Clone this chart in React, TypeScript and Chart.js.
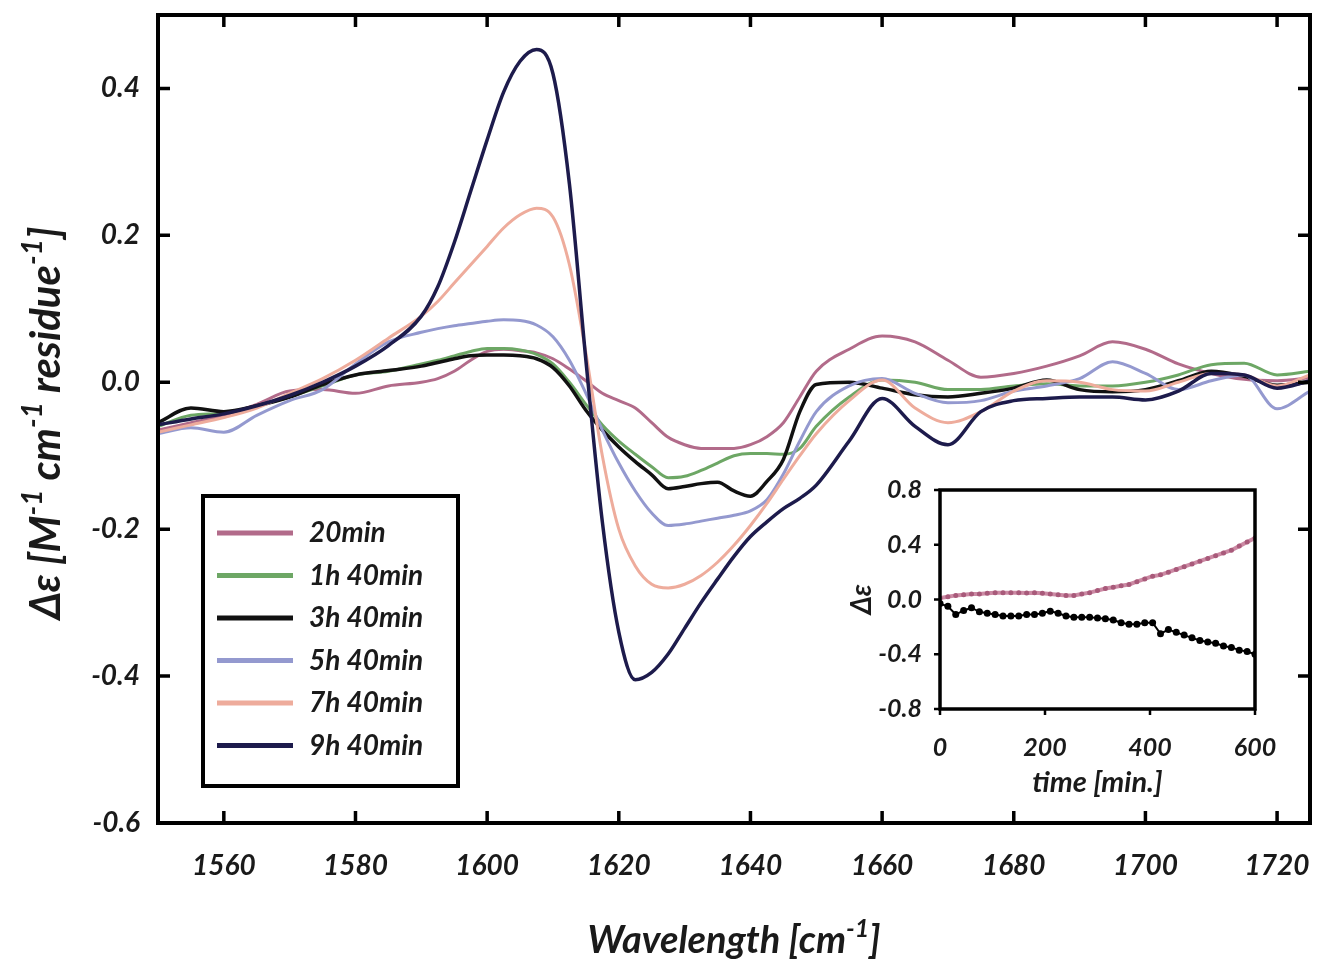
import { useEffect, useRef } from "react";
import { Chart, registerables } from "chart.js";
Chart.register(...registerables);

// ---------- main spectra data ----------
const WAVENUMBER = [1550,1555,1560,1565,1570,1575,1580,1585,1590,1592.5,1595,1597.5,1600,1602.5,1605,1607.5,1610,1612.5,1615,1617.5,1620,1622.5,1625,1627.5,1630,1632.5,1635,1637.5,1640,1642.5,1645,1647.5,1650,1655,1660,1665,1670,1675,1680,1685,1690,1695,1700,1705,1710,1715,1720,1725];
const CD_20MIN = [-0.065,-0.055,-0.045,-0.03,-0.012,-0.01,-0.015,-0.005,0.0,0.005,0.015,0.03,0.042,0.045,0.043,0.04,0.032,0.018,0.002,-0.015,-0.025,-0.035,-0.055,-0.075,-0.085,-0.09,-0.09,-0.09,-0.085,-0.074,-0.055,-0.02,0.015,0.045,0.063,0.055,0.03,0.007,0.012,0.022,0.036,0.055,0.045,0.025,0.012,0.004,0.002,0.006];
const CD_1H40 = [-0.06,-0.045,-0.042,-0.032,-0.02,-0.005,0.01,0.015,0.025,0.03,0.036,0.042,0.046,0.046,0.044,0.038,0.025,0.0,-0.03,-0.058,-0.08,-0.098,-0.115,-0.13,-0.128,-0.12,-0.11,-0.1,-0.097,-0.097,-0.098,-0.09,-0.06,-0.02,0.003,0.0,-0.01,-0.01,-0.005,-0.002,-0.005,-0.005,0.0,0.01,0.024,0.026,0.01,0.015];
const CD_3H40 = [-0.055,-0.035,-0.04,-0.032,-0.02,-0.003,0.01,0.016,0.022,0.027,0.032,0.036,0.037,0.037,0.036,0.032,0.02,-0.005,-0.038,-0.065,-0.088,-0.108,-0.126,-0.145,-0.142,-0.138,-0.136,-0.148,-0.155,-0.135,-0.105,-0.04,-0.003,0.0,-0.008,-0.017,-0.02,-0.015,-0.008,0.003,-0.01,-0.013,-0.01,0.002,0.015,0.008,-0.004,0.0];
const CD_5H40 = [-0.07,-0.062,-0.068,-0.045,-0.025,-0.01,0.025,0.055,0.068,0.073,0.077,0.08,0.083,0.085,0.084,0.078,0.062,0.03,-0.015,-0.065,-0.11,-0.148,-0.178,-0.195,-0.193,-0.189,-0.185,-0.181,-0.175,-0.16,-0.125,-0.08,-0.04,-0.005,0.005,-0.015,-0.028,-0.025,-0.012,-0.005,0.005,0.028,0.012,-0.01,0.002,0.01,-0.036,-0.012];
const CD_7H40 = [-0.068,-0.058,-0.048,-0.035,-0.015,0.005,0.03,0.06,0.09,0.11,0.135,0.16,0.185,0.21,0.228,0.237,0.225,0.16,0.04,-0.1,-0.2,-0.25,-0.275,-0.28,-0.275,-0.263,-0.245,-0.222,-0.195,-0.165,-0.132,-0.1,-0.07,-0.025,0.003,-0.035,-0.055,-0.04,-0.012,0.002,0.0,-0.01,-0.012,0.0,0.012,0.01,-0.005,0.01];
const CD_9H40 = [-0.058,-0.05,-0.043,-0.032,-0.018,0.0,0.022,0.05,0.09,0.13,0.19,0.26,0.33,0.395,0.437,0.453,0.42,0.27,0.03,-0.19,-0.34,-0.405,-0.395,-0.37,-0.335,-0.3,-0.268,-0.237,-0.21,-0.19,-0.172,-0.158,-0.14,-0.08,-0.022,-0.06,-0.085,-0.04,-0.025,-0.022,-0.02,-0.02,-0.024,-0.012,0.012,0.01,-0.008,0.002];

const SERIES_LABELS = ["20min", "1h 40min", "3h 40min", "5h 40min", "7h 40min", "9h 40min"];
const SERIES_VALUES = [CD_20MIN, CD_1H40, CD_3H40, CD_5H40, CD_7H40, CD_9H40];
const SERIES_COLORS = ["#b26b8a", "#6da765", "#111111", "#9499cf", "#eeac9c", "#1d1b4c"];
const SERIES_WIDTHS = [3, 3, 3.5, 3, 3, 3.5];

const X_TICKS = [1560, 1580, 1600, 1620, 1640, 1660, 1680, 1700, 1720];
const Y_TICKS = [-0.6, -0.4, -0.2, 0.0, 0.2, 0.4];

// ---------- inset data ----------
const INSET_TIME = [0,15,30,45,60,75,90,105,120,135,150,165,180,195,210,225,240,255,270,285,300,315,330,345,360,375,390,405,420,435,450,465,480,495,510,525,540,555,570,585,600];
const INSET_POS = [0.01,0.02,0.03,0.035,0.04,0.04,0.045,0.05,0.05,0.05,0.05,0.048,0.05,0.045,0.04,0.035,0.03,0.03,0.04,0.05,0.065,0.08,0.09,0.1,0.11,0.13,0.15,0.17,0.18,0.2,0.22,0.24,0.26,0.28,0.3,0.32,0.34,0.36,0.39,0.42,0.45];
const INSET_NEG = [-0.03,-0.05,-0.11,-0.08,-0.06,-0.09,-0.1,-0.11,-0.12,-0.12,-0.12,-0.11,-0.11,-0.1,-0.085,-0.1,-0.12,-0.13,-0.13,-0.13,-0.135,-0.14,-0.15,-0.17,-0.18,-0.18,-0.17,-0.17,-0.25,-0.22,-0.24,-0.26,-0.28,-0.3,-0.31,-0.32,-0.34,-0.35,-0.37,-0.38,-0.4];
const INSET_X_TICKS = [0, 200, 400, 600];
const INSET_Y_TICKS = [-0.8, -0.4, 0.0, 0.4, 0.8];

const FONT = 'Lato, "DejaVu Sans", sans-serif';
const TXT = "#1a1a1a";

type Part = { t: string; sup?: boolean };

function drawRich(ctx: CanvasRenderingContext2D, parts: Part[], size: number, cx: number, baseY: number) {
  const supSize = Math.round(size * 0.66);
  const widths = parts.map((p) => {
    ctx.font = `italic bold ${p.sup ? supSize : size}px ${FONT}`;
    return ctx.measureText(p.t).width;
  });
  const total = widths.reduce((a, b) => a + b, 0);
  let x = cx - total / 2;
  ctx.textAlign = "left";
  ctx.textBaseline = "alphabetic";
  parts.forEach((p, i) => {
    ctx.font = `italic bold ${p.sup ? supSize : size}px ${FONT}`;
    ctx.fillText(p.t, x, p.sup ? baseY - size * 0.42 : baseY);
    x += widths[i];
  });
}

function zeroPad(s: any) {
  s.paddingLeft = 0;
  s.paddingRight = 0;
  s.paddingTop = 0;
  s.paddingBottom = 0;
}

const mainDecor = {
  id: "mainDecor",
  afterDraw(chart: any) {
    const { ctx, chartArea: a, scales } = chart;
    const xs = scales.x, ys = scales.y;
    ctx.save();
    ctx.strokeStyle = "#000";
    ctx.lineWidth = 4;
    ctx.strokeRect(a.left, a.top, a.right - a.left, a.bottom - a.top);
    ctx.lineWidth = 3.5;
    ctx.beginPath();
    X_TICKS.forEach((t) => {
      const px = xs.getPixelForValue(t);
      ctx.moveTo(px, a.bottom); ctx.lineTo(px, a.bottom - 12);
      ctx.moveTo(px, a.top); ctx.lineTo(px, a.top + 12);
    });
    Y_TICKS.forEach((t) => {
      const py = ys.getPixelForValue(t);
      ctx.moveTo(a.left, py); ctx.lineTo(a.left + 12, py);
      ctx.moveTo(a.right, py); ctx.lineTo(a.right - 12, py);
    });
    ctx.stroke();

    // legend box
    const lx = 203, ly = 496, lw = 255, lh = 290;
    ctx.fillStyle = "#fff";
    ctx.fillRect(lx, ly, lw, lh);
    ctx.lineWidth = 4;
    ctx.strokeRect(lx, ly, lw, lh);
    SERIES_LABELS.forEach((lab, i) => {
      const yy = 533 + i * 42.5;
      ctx.strokeStyle = SERIES_COLORS[i];
      ctx.lineWidth = 5;
      ctx.beginPath();
      ctx.moveTo(217, yy); ctx.lineTo(293, yy);
      ctx.stroke();
      ctx.fillStyle = TXT;
      ctx.font = `italic bold 28px ${FONT}`;
      ctx.textAlign = "left";
      ctx.textBaseline = "middle";
      ctx.fillText(lab, 309, yy);
    });

    // titles
    ctx.fillStyle = TXT;
    drawRich(ctx, [{ t: "Wavelength [cm" }, { t: "-1", sup: true }, { t: "]" }], 38, (a.left + a.right) / 2, 953);
    ctx.translate(45, 423);
    ctx.rotate(-Math.PI / 2);
    drawRich(ctx, [{ t: "\u0394\u03b5 [M" }, { t: "-1", sup: true }, { t: " cm" }, { t: "-1", sup: true }, { t: " residue" }, { t: "-1", sup: true }, { t: "]" }], 42, 0, 15);
    ctx.restore();
  },
};

const insetDecor = {
  id: "insetDecor",
  afterDraw(chart: any) {
    const { ctx, chartArea: a, scales } = chart;
    ctx.save();
    ctx.strokeStyle = "#000";
    ctx.lineWidth = 3.5;
    ctx.strokeRect(a.left, a.top, a.right - a.left, a.bottom - a.top);
    ctx.lineWidth = 2.5;
    ctx.beginPath();
    INSET_X_TICKS.forEach((t) => {
      const px = scales.x.getPixelForValue(t);
      ctx.moveTo(px, a.bottom); ctx.lineTo(px, a.bottom + 6);
    });
    INSET_Y_TICKS.forEach((t) => {
      const py = scales.y.getPixelForValue(t);
      ctx.moveTo(a.left, py); ctx.lineTo(a.left - 6, py);
    });
    ctx.stroke();
    ctx.fillStyle = TXT;
    drawRich(ctx, [{ t: "time [min.]" }], 29, (a.left + a.right) / 2, 792);
    ctx.translate(862, (a.top + a.bottom) / 2);
    ctx.rotate(-Math.PI / 2);
    drawRich(ctx, [{ t: "\u0394\u03b5" }], 28, 0, 9);
    ctx.restore();
  },
};

export default function App() {
  const mainRef = useRef<HTMLCanvasElement>(null);
  const insetRef = useRef<HTMLCanvasElement>(null);

  useEffect(() => {
    document.body.style.margin = "0";
    const tickFont = { family: FONT, size: 28, style: "italic" as const, weight: "bold" as const };
    const datasets = SERIES_LABELS.map((lab, i) => ({
      label: lab,
      data: WAVENUMBER.map((w, j) => ({ x: w, y: SERIES_VALUES[i][j] })),
      borderColor: SERIES_COLORS[i],
      borderWidth: SERIES_WIDTHS[i],
      pointRadius: 0,
      cubicInterpolationMode: "monotone" as const,
      fill: false,
      order: 5 - i,
    }));
    const main = new Chart(mainRef.current!, {
      type: "line",
      data: { datasets },
      options: {
        responsive: false,
        animation: false,
        devicePixelRatio: 1,
        layout: { padding: { left: 0, top: 15, right: 9, bottom: 0 } },
        plugins: { legend: { display: false }, tooltip: { enabled: false } },
        scales: {
          x: {
            type: "linear",
            min: 1550,
            max: 1725,
            afterBuildTicks: (s: any) => { s.ticks = X_TICKS.map((v) => ({ value: v })); },
            afterFit: (s: any) => { s.height = 148; zeroPad(s); },
            grid: { display: false, drawTicks: false },
            border: { display: false },
            ticks: { font: tickFont, color: TXT, padding: 26, maxRotation: 0, callback: (v: any) => String(v) },
          },
          y: {
            type: "linear",
            min: -0.6,
            max: 0.5,
            afterBuildTicks: (s: any) => { s.ticks = Y_TICKS.map((v) => ({ value: v })); },
            afterFit: (s: any) => { s.width = 158; zeroPad(s); },
            grid: { display: false, drawTicks: false },
            border: { display: false },
            ticks: { font: tickFont, color: TXT, padding: 18, callback: (v: any) => Number(v).toFixed(1) },
          },
        },
      },
      plugins: [mainDecor],
    });

    const insetFont = { family: FONT, size: 25, style: "italic" as const, weight: "bold" as const };
    const inset = new Chart(insetRef.current!, {
      type: "line",
      data: {
        datasets: [
          {
            label: "positive",
            data: INSET_TIME.map((t, j) => ({ x: t, y: INSET_POS[j] })),
            borderColor: "#cc8aa4",
            backgroundColor: "#a85a7a",
            borderWidth: 4,
            pointRadius: 2.5,
            pointBorderWidth: 0,
          },
          {
            label: "negative",
            data: INSET_TIME.map((t, j) => ({ x: t, y: INSET_NEG[j] })),
            borderColor: "#000",
            backgroundColor: "#000",
            borderWidth: 2,
            pointRadius: 3.5,
            pointBorderWidth: 0,
          },
        ],
      },
      options: {
        responsive: false,
        animation: false,
        devicePixelRatio: 1,
        layout: { padding: { left: 860, top: 490, right: 64, bottom: 182 } },
        plugins: { legend: { display: false }, tooltip: { enabled: false } },
        scales: {
          x: {
            type: "linear",
            min: 0,
            max: 600,
            afterBuildTicks: (s: any) => { s.ticks = INSET_X_TICKS.map((v) => ({ value: v })); },
            afterFit: (s: any) => { s.height = 80; zeroPad(s); },
            grid: { display: false, drawTicks: false },
            border: { display: false },
            ticks: { font: insetFont, color: TXT, padding: 24, maxRotation: 0, callback: (v: any) => String(v) },
          },
          y: {
            type: "linear",
            min: -0.8,
            max: 0.8,
            afterBuildTicks: (s: any) => { s.ticks = INSET_Y_TICKS.map((v) => ({ value: v })); },
            afterFit: (s: any) => { s.width = 80; zeroPad(s); },
            grid: { display: false, drawTicks: false },
            border: { display: false },
            ticks: { font: insetFont, color: TXT, padding: 18, callback: (v: any) => Number(v).toFixed(1) },
          },
        },
      },
      plugins: [insetDecor],
    });

    return () => {
      main.destroy();
      inset.destroy();
    };
  }, []);

  return (
    <div style={{ position: "absolute", left: 0, top: 0, width: 1319, height: 971, background: "#fff" }}>
      <canvas ref={mainRef} width={1319} height={971} style={{ position: "absolute", left: 0, top: 0 }} />
      <canvas ref={insetRef} width={1319} height={971} style={{ position: "absolute", left: 0, top: 0 }} />
    </div>
  );
}
